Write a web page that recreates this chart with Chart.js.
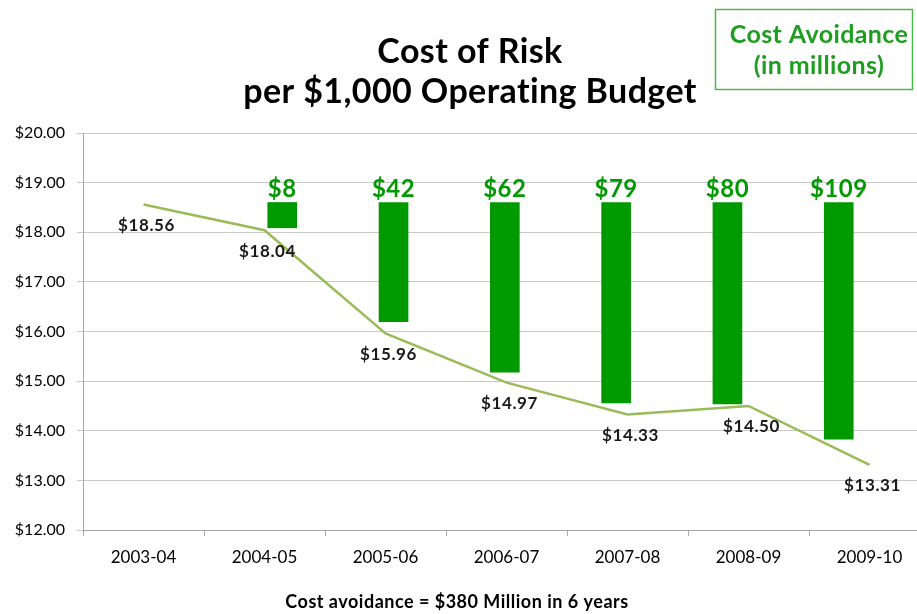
<!DOCTYPE html>
<html>
<head>
<meta charset="utf-8">
<script src="https://cdn.jsdelivr.net/npm/chart.js@4/dist/chart.umd.min.js"></script>
<style>
  html, body { margin: 0; padding: 0; background: #fff; overflow: hidden; }
  #wrap { width: 932px; height: 614px; }
</style>
</head>
<body>
<div id="wrap"><canvas id="riskChart" width="932" height="614"></canvas></div>
<script>
// ---- data ----
const years = ["2003-04", "2004-05", "2005-06", "2006-07", "2007-08", "2008-09", "2009-10"];
const costPerThousand = [18.56, 18.04, 15.96, 14.97, 14.33, 14.50, 13.31];

// cost avoidance bars (floating, drawn from a common top down)
const avoidanceMillions = [8, 42, 62, 79, 80, 109];
const barSlots = [1, 2, 3, 4, 5, 6];
const barTop = 18.6;
const barBottom = [18.09, 16.20, 15.18, 14.56, 14.54, 13.83];

const yTicks = [12, 13, 14, 15, 16, 17, 18, 19, 20];

const FONT = "Lato, 'Open Sans', sans-serif";
const GREEN = "#009900";

const textPlugin = {
    id: "textPlugin",
    afterDatasetsDraw(chart) {
        const ctx = chart.ctx;
        ctx.save();

        // values under the line points
        const lineMeta = chart.getDatasetMeta(1);
        ctx.font = "bold 17px " + FONT;
        ctx.letterSpacing = "0.6px";
        ctx.fillStyle = "#1a1a1a";
        ctx.textAlign = "center";
        ctx.textBaseline = "middle";
        lineMeta.data.forEach((pt, i) => {
            ctx.fillText("$" + costPerThousand[i].toFixed(2), pt.x + 3, pt.y + 21);
        });

        // avoidance amounts above bars
        const barMeta = chart.getDatasetMeta(0);
        ctx.font = "bold 24px " + FONT;
        ctx.letterSpacing = "0.5px";
        ctx.fillStyle = GREEN;
        ctx.textBaseline = "alphabetic";
        barMeta.data.forEach((bar, i) => {
            ctx.fillText("$" + avoidanceMillions[i], bar.x, Math.min(bar.y, bar.base) - 5);
        });
        ctx.restore();
    },
    afterDraw(chart) {
        const ctx = chart.ctx;
        ctx.save();
        ctx.textAlign = "center";
        ctx.textBaseline = "middle";

        // title
        ctx.fillStyle = "#000";
        ctx.font = "bold 34px " + FONT;
        ctx.letterSpacing = "0.4px";
        ctx.fillText("Cost of Risk", 470, 52);
        ctx.fillText("per $1,000 Operating Budget", 470, 92);

        // legend-ish box
        ctx.strokeStyle = "#4cb84c";
        ctx.lineWidth = 1.5;
        ctx.strokeRect(715.5, 9.5, 197, 80);
        ctx.fillStyle = "#1e9e1e";
        ctx.font = "bold 25px " + FONT;
        ctx.letterSpacing = "0.4px";
        ctx.fillText("Cost Avoidance", 819, 35);
        ctx.fillText("(in millions)", 819, 66);

        // footnote
        ctx.fillStyle = "#000";
        ctx.font = "bold 18px " + FONT;
        ctx.letterSpacing = "0.5px";
        ctx.fillText("Cost avoidance = $380 Million in 6 years", 457, 602);
        ctx.restore();
    }
};

new Chart(document.getElementById("riskChart"), {
    data: {
        labels: years,
        datasets: [
            {
                type: "bar",
                label: "Cost Avoidance",
                xAxisID: "x2",
                data: barSlots.map((s, i) => ({ x: s, y: [barTop, barBottom[i]] })),
                backgroundColor: GREEN,
                borderWidth: 0,
                grouped: false,
                barThickness: 29,
                maxBarThickness: 29,
                order: 2
            },
            {
                type: "line",
                label: "Cost of Risk",
                xAxisID: "x",
                data: costPerThousand,
                borderColor: "#9bbb59",
                borderWidth: 2.5,
                pointRadius: 0,
                tension: 0,
                order: 1
            }
        ]
    },
    options: {
        responsive: false,
        animation: false,
        layout: { padding: { left: 0, top: 133, right: 2, bottom: 0 } },
        plugins: {
            legend: { display: false },
            title: { display: false },
            tooltip: { enabled: false }
        },
        scales: {
            x: {
                type: "category",
                offset: true,
                grid: {
                    offset: true,
                    drawOnChartArea: false,
                    drawTicks: true,
                    tickLength: 6,
                    color: "#a6a6a6"
                },
                border: { color: "#a6a6a6" },
                ticks: {
                    color: "#000",
                    font: { family: FONT, size: 17 },
                    padding: 11,
                    maxRotation: 0
                },
                afterFit(scale) { scale.height = 84; }
            },
            x2: {
                type: "linear",
                display: false,
                offset: false,
                min: -0.79,
                max: 6.82
            },
            y: {
                min: 12,
                max: 20,
                afterBuildTicks(scale) { scale.ticks = yTicks.map(v => ({ value: v })); },
                grid: {
                    color: "#c8c8c8",
                    tickLength: 6,
                    drawTicks: true
                },
                border: { color: "#a6a6a6" },
                ticks: {
                    color: "#000",
                    font: { family: FONT, size: 16 },
                    padding: 12,
                    callback: v => "$" + Number(v).toFixed(2)
                },
                afterFit(scale) { scale.width = 83; }
            }
        }
    },
    plugins: [textPlugin]
});
</script>
</body>
</html>
